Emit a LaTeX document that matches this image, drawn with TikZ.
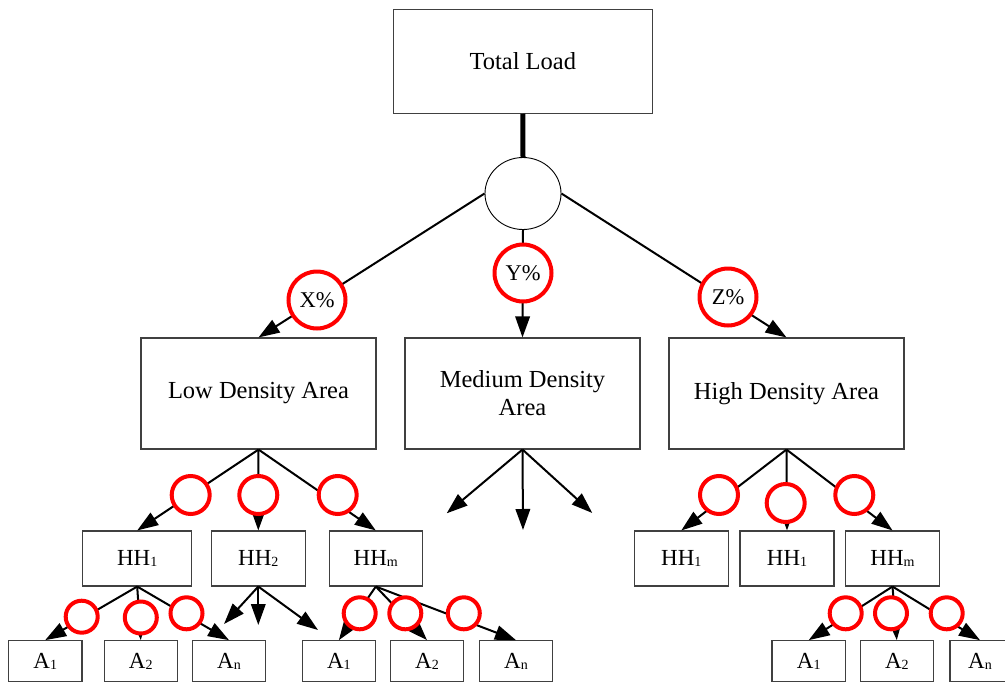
\documentclass[tikz,border=0pt]{standalone}
\usepackage{fontspec}
\setmainfont{Liberation Serif}
\usetikzlibrary{arrows.meta,shapes.geometric}
\newcommand\mysub[1]{\raisebox{-1.5pt}{\fontsize{14}{14}\selectfont #1}}
\tikzset{
  box/.style={draw=black!75, line width=1.1pt, rectangle, inner sep=0pt, align=center},
  bigbox/.style={box, minimum width=235pt, minimum height=111pt, font=\fontsize{24.5}{28}\selectfont},
  hhbox/.style={box, minimum height=55pt, font=\fontsize{23}{26}\selectfont},
  abox/.style={box, minimum height=41pt, minimum width=73.5pt, font=\fontsize{23}{26}\selectfont},
  arr/.style={line width=2pt, -{Triangle[length=21pt,width=14.5pt]}},
  rc/.style={circle, draw=red, line width=4pt, fill=white, inner sep=0pt},
  pc/.style={rc, minimum size=57pt, font=\fontsize{22.5}{24}\selectfont},
  rcm/.style={rc, minimum size=38pt},
  rcs/.style={rc, minimum size=32pt}
}
\begin{document}
\begin{tikzpicture}[x=1pt,y=-1pt]
\useasboundingbox (0,0) rectangle (1005,683);
\clip (0,0) rectangle (1005,683);
\fill[white] (0,0) rectangle (1005,683);

% boxes
\node[box, minimum width=259pt, minimum height=104pt, font=\fontsize{24.5}{28}\selectfont] (top) at (522.8,61.2) {Total Load};
\node[draw=black, line width=0.9pt, ellipse, minimum width=76pt, minimum height=72pt, inner sep=0pt] (hub) at (523,193.5) {};

\node[bigbox] (low) at (258.5,393.5) {Low Density Area};
\node[bigbox] (med) at (522.5,393.5) {Medium Density\\Area};
\node[bigbox] (high) at (786.5,393.5) {High Density Area};

\node[hhbox, minimum width=109pt] (lh1) at (137.2,558.5) {HH\mysub{1}};
\node[hhbox, minimum width=93.5pt] (lh2) at (258.3,558.5) {HH\mysub{2}};
\node[hhbox, minimum width=93.5pt] (lhm) at (375.8,558.5) {HH\mysub{m}};
\node[hhbox, minimum width=94pt] (rh1) at (681.3,558.5) {HH\mysub{1}};
\node[hhbox, minimum width=94pt] (rh2) at (787,558.5) {HH\mysub{1}};
\node[hhbox, minimum width=93.5pt] (rhm) at (892.5,558.5) {HH\mysub{m}};

\node[abox] (a11) at (45.2,661.2) {A\mysub{1}};
\node[abox] (a12) at (140.8,661.2) {A\mysub{2}};
\node[abox] (a1n) at (229,661.2) {A\mysub{n}};
\node[abox] (am1) at (338.9,661.2) {A\mysub{1}};
\node[abox] (am2) at (427,661.2) {A\mysub{2}};
\node[abox] (amn) at (516,661.2) {A\mysub{n}};
\node[abox] (ar1) at (808.7,661.2) {A\mysub{1}};
\node[abox] (ar2) at (896.8,661.2) {A\mysub{2}};
\node[abox, minimum width=60pt] (arn) at (980,661.2) {A\mysub{n}};

\coordinate (m1) at (446.7,513.3);
\coordinate (m2) at (523,530);
\coordinate (m3) at (592.3,513);
\coordinate (h1) at (224,624);
\coordinate (h2) at (258.3,625);
\coordinate (h3) at (318,630);

% connectors
\draw[line width=5pt] (top.south) -- (hub.north);
\draw[arr] (hub.west) -- (low.north);
\draw[arr] (hub.south) -- (med.north);
\draw[arr] (hub.east) -- (high.north);

\draw[arr] (low.south) -- (lh1.north);
\draw[arr] (low.south) -- (lh2.north);
\draw[arr] (low.south) -- (lhm.north);

\draw[arr] (med.south) -- (m1);
\draw[arr] (med.south) -- (m2);
\draw[arr] (med.south) -- (m3);

\draw[arr] (high.south) -- (rh1.north);
\draw[arr] (high.south) -- (rh2.north);
\draw[arr] (high.south) -- (rhm.north);

\draw[arr] (lh1.south) -- (a11.north);
\draw[arr] (lh1.south) -- (a12.north);
\draw[arr] (lh1.south) -- (a1n.north);

\draw[arr] (lh2.south) -- (h1);
\draw[arr] (lh2.south) -- (h2);
\draw[arr] (lh2.south) -- (h3);

\draw[arr] (lhm.south) -- (am1.north);
\draw[arr] (lhm.south) -- (am2.north);
\draw[arr] (lhm.south) -- (amn.north);

\draw[arr] (rhm.south) -- (ar1.north);
\draw[arr] (rhm.south) -- (ar2.north);
\draw[arr] (rhm.south) -- (arn.north);

% red circles
\node[pc] (px) at (317,300) {X\%};
\node[pc] (py) at (523,273) {Y\%};
\node[pc] (pz) at (728,297) {Z\%};

\node[rcm] (cl1) at (190.7,495) {};
\node[rcm] (cl2) at (258.3,495) {};
\node[rcm] (cl3) at (337.7,495) {};
\node[rcm] (cr1) at (719,495) {};
\node[rcm] (cr2) at (785.7,503) {};
\node[rcm] (cr3) at (854.3,495) {};

\node[rcs] (s11) at (81.7,616.7) {};
\node[rcs] (s12) at (140.8,617.5) {};
\node[rcs] (s13) at (186.5,613.3) {};
\node[rcs] (sm1) at (359.7,613.3) {};
\node[rcs] (sm2) at (405.3,613.3) {};
\node[rcs] (sm3) at (463.8,613.3) {};
\node[rcs] (sr1) at (845.7,613.3) {};
\node[rcs] (sr2) at (891,613.3) {};
\node[rcs] (sr3) at (946.7,613.3) {};
\end{tikzpicture}
\end{document}
